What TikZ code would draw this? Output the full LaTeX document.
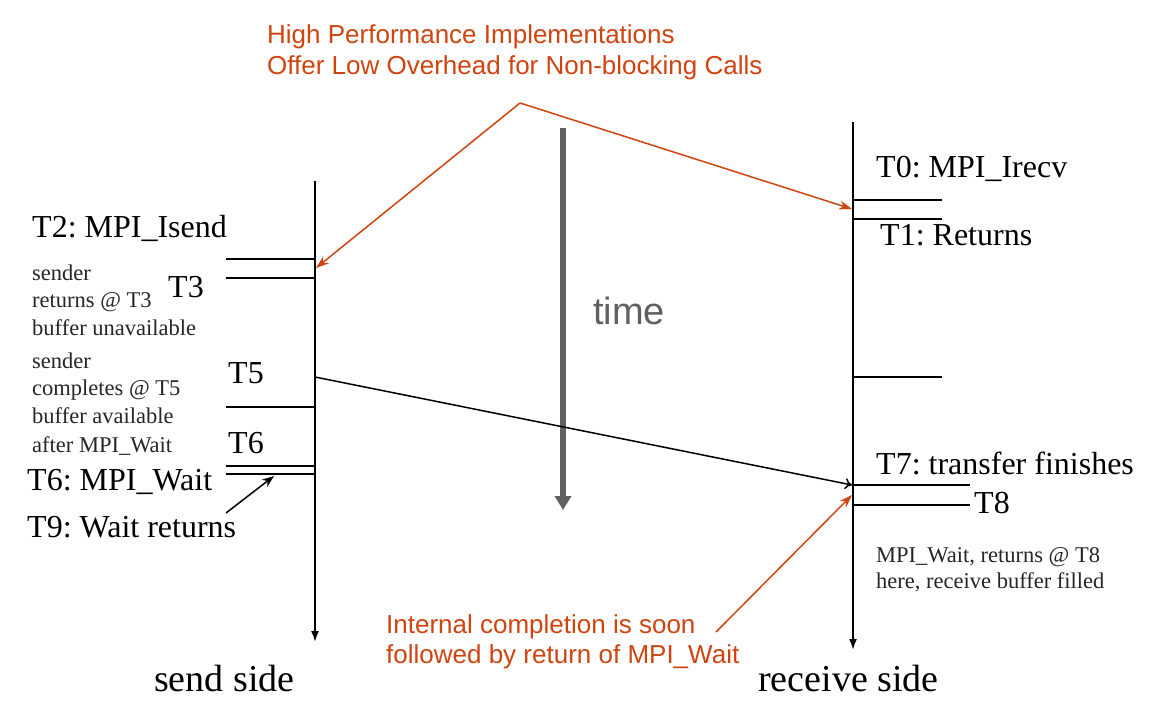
\documentclass[tikz,border=0pt]{standalone}
\usepackage{fontspec}
\setmainfont{Liberation Serif}
\newfontfamily\arialf{Liberation Sans}
\usetikzlibrary{arrows.meta}
\definecolor{redc}{RGB}{208,68,16}
\definecolor{timec}{RGB}{96,96,96}
\frenchspacing
\begin{document}
\begin{tikzpicture}[x=1pt,y=-1pt,
  big/.style={inner sep=0pt, anchor=base west, font=\fontsize{32}{38}\selectfont},
  small/.style={inner sep=0pt, anchor=base west, font=\fontsize{22.5}{27}\selectfont, text=black!85},
  note/.style={inner sep=0pt, anchor=base west, font=\arialf\fontsize{26}{31}\selectfont, text=redc},
  side/.style={inner sep=0pt, anchor=base west, font=\fontsize{38}{44}\selectfont},
  tick/.style={line width=1.8pt},
  axisline/.style={line width=1.8pt, -{Latex[length=11pt,width=8pt]}},
  redarrow/.style={redc, line width=1.5pt, -{Stealth[length=13pt,width=9pt]}},
  msgarrow/.style={line width=1.5pt, -{To[length=7pt,width=11pt]}},
  blkarrow/.style={line width=1.5pt, -{Stealth[length=12pt,width=9pt]}}]
\useasboundingbox (0,0) rectangle (1158,703);
\fill[white] (0,0) rectangle (1158,703);
% axes
\coordinate (sTop) at (315,181);
\coordinate (sBot) at (315,642);
\coordinate (rTop) at (853,122);
\coordinate (rBot) at (853,650);
\draw[axisline] (sTop) -- (sBot);
\draw[axisline] (rTop) -- (rBot);
% send ticks
\foreach \y/\n in {259/a,278/b,407/c,466/d,474/e}{
  \coordinate (s\n L) at (226,\y);
  \coordinate (s\n R) at (315,\y);
  \draw[tick] (s\n L) -- (s\n R);
}
% receive ticks
\foreach \y/\n/\x in {200/a/942,219/b/942,377/c/942,485/d/970,505/e/970}{
  \coordinate (r\n L) at (853,\y);
  \coordinate (r\n R) at (\x,\y);
  \draw[tick] (r\n L) -- (r\n R);
}
% time arrow
\coordinate (tTop) at (563,128);
\coordinate (tBot) at (563,510);
\draw[timec, line width=6pt, -{Triangle[length=14pt,width=16pt]}] (tTop) -- (tBot);
\node[inner sep=0pt, anchor=base west, font=\arialf\fontsize{38}{44}\selectfont, text=timec] (time) at (593,324) {time};
% message
\coordinate (msgS) at (315,377);
\coordinate (msgE) at (852,485);
\draw[msgarrow] (msgS) -- (msgE);
% red notes
\node[note] (hp1) at (267,44) {High Performance Implementations};
\node[note] (hp2) at (267,75) {Offer Low Overhead for Non-blocking Calls};
\coordinate (apex) at (520,103);
\draw[redarrow] (apex) -- (316,268);
\draw[redarrow] (apex) -- (852,209);
\node[note] (ic1) at (386,633) {Internal completion is soon};
\node[note] (ic2) at (386,663) {followed by return of MPI\_Wait};
\coordinate (icS) at (716,632);
\draw[redarrow] (icS) -- (852,495);
% send side labels
\node[big] (t2) at (32,237) {T2: MPI\_Isend};
\node[small] (s1) at (32,280) {sender};
\node[small] (s2) at (32,307) {returns @ T3};
\node[small] (s3) at (32,335) {buffer unavailable};
\node[big] (t3) at (168,297) {T3};
\node[small] (s4) at (32,368) {sender};
\node[small] (s5) at (32,395) {completes @ T5};
\node[small] (s6) at (32,423) {buffer available};
\node[small] (s7) at (32,452) {after MPI\_Wait};
\node[big] (t5) at (228,383) {T5};
\node[big] (t6) at (228,453) {T6};
\node[big] (t6w) at (27,490) {T6: MPI\_Wait};
\node[big] (t9) at (27,537) {T9: Wait returns};
\coordinate (t9S) at (226,513);
\coordinate (t9E) at (274,476);
\draw[blkarrow] (t9S) -- (t9E);
% receive side labels
\node[big] (t0) at (876,178) {T0: MPI\_Irecv};
\node[big] (t1) at (880,246) {T1: Returns};
\node[big] (t7) at (876,474) {T7: transfer finishes};
\node[big] (t8) at (974,513) {T8};
\node[small] (r1) at (876,562) {MPI\_Wait, returns @ T8};
\node[small] (r2) at (876,588) {here, receive buffer filled};
\node[side] (send) at (154,691) {send side};
\node[side] (recv) at (758,691) {receive side};
\end{tikzpicture}
\end{document}
